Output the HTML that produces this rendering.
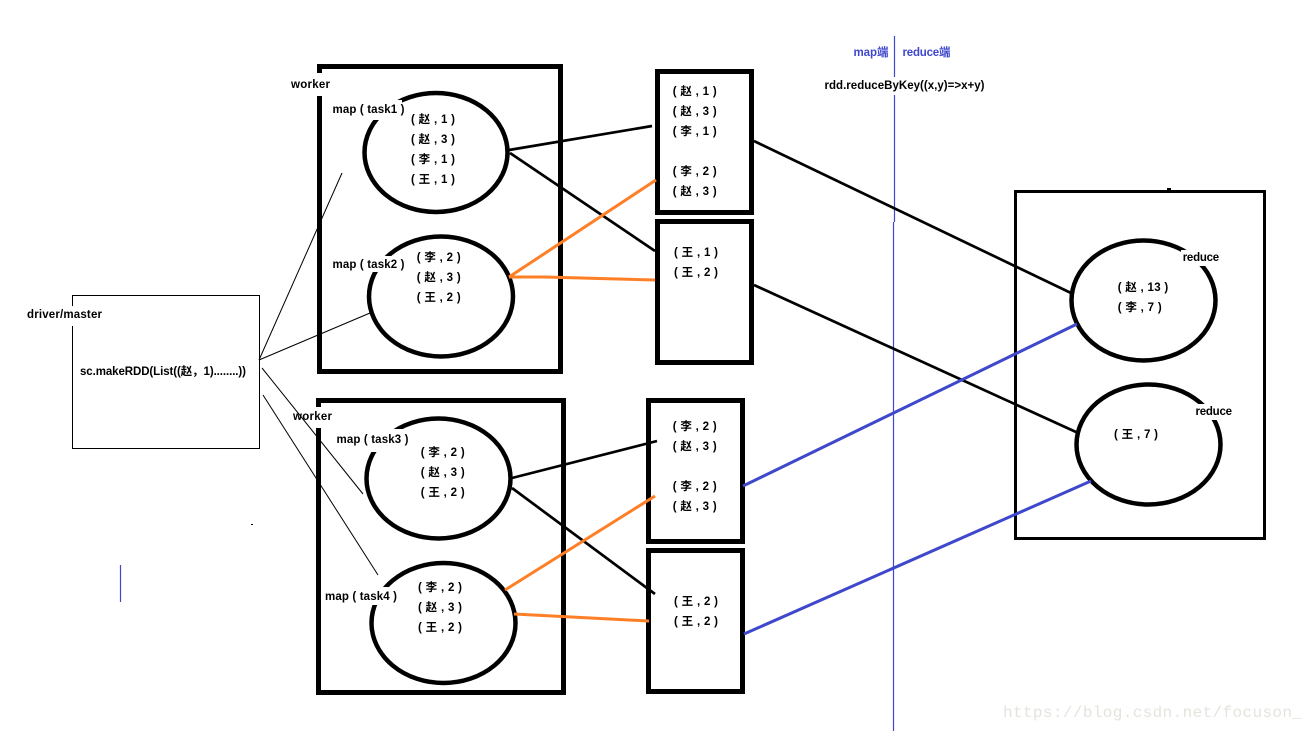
<!DOCTYPE html>
<html>
<head>
<meta charset="utf-8">
<style>
html,body{margin:0;padding:0;background:#fff;width:1313px;height:731px;overflow:hidden}
svg{display:block}
text{font-family:"Liberation Sans","Noto Sans CJK SC",sans-serif;font-size:11.5px;font-weight:bold;fill:#000}
.d{font-size:11.5px;transform:translateY(-1px)}
.b{fill:#3f48cc}
.w{font-family:"Liberation Mono",monospace;font-size:16px;font-weight:normal;fill:#e4e4de}
.box{fill:none;stroke:#000;stroke-width:5}
.c{fill:none;stroke:#000;stroke-width:4.5}
.t{stroke:#000;stroke-width:1;fill:none}
.k{stroke:#000;stroke-width:2.7;fill:none}
.o{stroke:#ff7f27;stroke-width:3;fill:none}
.u{stroke:#3f48cc;stroke-width:3;fill:none}
.v{stroke:#3f48cc;stroke-width:1.2;fill:none}
</style>
</head>
<body>
<svg width="1313" height="731" viewBox="0 0 1313 731" xmlns="http://www.w3.org/2000/svg">
<rect width="1313" height="731" fill="#fff"/>

<!-- vertical divider -->
<path class="v" d="M894.5 36V222M893.5 222V731M120.5 565V602"/>
<rect x="251" y="524" width="2" height="1" fill="#000"/>

<!-- boxes -->
<rect x="72.5" y="295.5" width="187" height="153" fill="none" stroke="#000" stroke-width="1"/>
<rect class="box" x="319.5" y="66.5" width="241" height="305"/>
<rect class="box" x="318.5" y="400.5" width="245" height="292"/>
<rect class="box" x="657.5" y="71.5" width="94" height="141"/>
<rect class="box" x="657.5" y="221.5" width="94" height="141"/>
<rect class="box" x="648.5" y="400.5" width="94" height="141"/>
<rect class="box" x="648.5" y="550.5" width="94" height="141"/>
<rect x="1015.5" y="191.5" width="249" height="347" fill="none" stroke="#000" stroke-width="3"/>
<rect x="1167" y="188" width="4" height="3" fill="#000"/>

<!-- circles -->
<ellipse class="c" cx="436" cy="152.5" rx="71.5" ry="59.5"/>
<ellipse class="c" cx="441" cy="296.5" rx="72" ry="60"/>
<ellipse class="c" cx="438.5" cy="478.5" rx="72" ry="60"/>
<ellipse class="c" cx="443.5" cy="623" rx="72" ry="60"/>
<ellipse class="c" cx="1143.5" cy="300.5" rx="72" ry="60"/>
<ellipse class="c" cx="1148.5" cy="444.5" rx="72" ry="60"/>

<!-- label backgrounds -->
<g fill="#fff">
<rect x="826" y="77" width="158" height="18"/>
<rect x="289" y="73" width="43" height="23"/>
<rect x="291" y="407" width="43" height="21"/>
<rect x="27" y="306" width="76" height="20"/>
<rect x="331" y="100" width="71" height="20"/>
<rect x="331" y="256" width="75" height="16"/>
<rect x="335" y="429" width="75" height="23"/>
<rect x="323" y="587" width="76" height="18"/>
<rect x="1181" y="250" width="40" height="16"/>
<rect x="1194" y="404" width="40" height="16"/>
</g>

<!-- thin lines -->
<path class="t" d="M259 360L342 173M259 360L370 313M262 368L363 494M263 395L378 575"/>

<!-- connectors -->
<path class="k" d="M509 150L652 126M510 153L655 251M754 141L1071 293M754 285L1076 432M512 478L657 441M512 488L655 594"/>
<path class="o" d="M509 277L656 180M509 277L545 277L655 280M505 590L655 496M514 614L649 621"/>
<path class="u" d="M743 486L1077 324M744 634L1091 481"/>

<!-- labels -->
<text x="853.5" y="56" class="b" textLength="35">map端</text>
<text x="902.5" y="56" class="b" textLength="48">reduce端</text>
<text x="824.5" y="89" textLength="160">rdd.reduceByKey((x,y)=&gt;x+y)</text>

<text x="291" y="88" textLength="39">worker</text>
<text x="293" y="420" textLength="39">worker</text>
<text x="27" y="318" textLength="75">driver/master</text>
<text x="80" y="375" textLength="166">sc.makeRDD(List((赵，1)........))</text>

<text x="332.5" y="113" textLength="72">map ( task1 )</text>
<text x="332.5" y="268" textLength="72">map ( task2 )</text>
<text x="336.5" y="443" textLength="72">map ( task3 )</text>
<text x="325" y="600" textLength="72">map ( task4 )</text>

<text class="d" x="411" y="124" textLength="44">( 赵 , 1 )</text>
<text class="d" x="411" y="144" textLength="44">( 赵 , 3 )</text>
<text class="d" x="411" y="164" textLength="44">( 李 , 1 )</text>
<text class="d" x="411" y="184" textLength="44">( 王 , 1 )</text>

<text class="d" x="416.7" y="262" textLength="44">( 李 , 2 )</text>
<text class="d" x="416.7" y="282" textLength="44">( 赵 , 3 )</text>
<text class="d" x="416.7" y="302" textLength="44">( 王 , 2 )</text>

<text class="d" x="420.7" y="457" textLength="44">( 李 , 2 )</text>
<text class="d" x="420.7" y="477" textLength="44">( 赵 , 3 )</text>
<text class="d" x="420.7" y="497" textLength="44">( 王 , 2 )</text>

<text class="d" x="418" y="592" textLength="44">( 李 , 2 )</text>
<text class="d" x="418" y="612" textLength="44">( 赵 , 3 )</text>
<text class="d" x="418" y="632" textLength="44">( 王 , 2 )</text>

<text class="d" x="672.7" y="96" textLength="44">( 赵 , 1 )</text>
<text class="d" x="672.7" y="116" textLength="44">( 赵 , 3 )</text>
<text class="d" x="672.7" y="136" textLength="44">( 李 , 1 )</text>
<text class="d" x="672.7" y="176" textLength="44">( 李 , 2 )</text>
<text class="d" x="672.7" y="196" textLength="44">( 赵 , 3 )</text>

<text class="d" x="674" y="257" textLength="44">( 王 , 1 )</text>
<text class="d" x="674" y="277" textLength="44">( 王 , 2 )</text>

<text class="d" x="672.7" y="431" textLength="44">( 李 , 2 )</text>
<text class="d" x="672.7" y="451" textLength="44">( 赵 , 3 )</text>
<text class="d" x="672.7" y="491" textLength="44">( 李 , 2 )</text>
<text class="d" x="672.7" y="511" textLength="44">( 赵 , 3 )</text>

<text class="d" x="674" y="606" textLength="44">( 王 , 2 )</text>
<text class="d" x="674" y="626" textLength="44">( 王 , 2 )</text>

<text x="1182.7" y="261" textLength="36.5">reduce</text>
<text x="1195.5" y="415" textLength="36.5">reduce</text>
<text class="d" x="1117.7" y="292" textLength="50.5">( 赵 , 13 )</text>
<text class="d" x="1117.7" y="312" textLength="44">( 李 , 7 )</text>
<text class="d" x="1114" y="439" textLength="44">( 王 , 7 )</text>

<text class="w" x="1003" y="717" textLength="299">https://blog.csdn.net/focuson_</text>
</svg>
</body>
</html>
